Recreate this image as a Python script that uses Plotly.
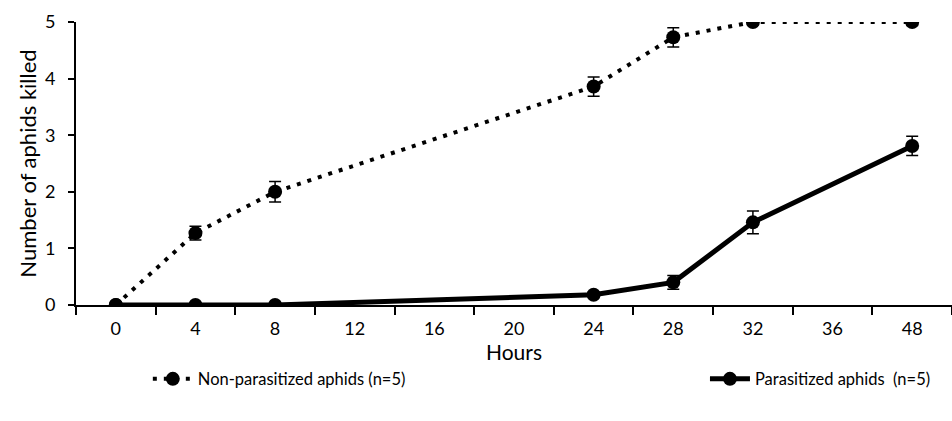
import plotly.graph_objects as go

# Sampling times (categorical axis) and mean numbers of aphids killed
hours = ["0", "4", "8", "12", "16", "20", "24", "28", "32", "36", "48"]

non_para_x = ["0", "4", "8", "24", "28", "32", "48"]
non_para_y = [0.0, 1.27, 2.0, 3.86, 4.73, 5.0, 5.0]
non_para_err = [0.0, 0.12, 0.18, 0.17, 0.17, 0.05, 0.06]

para_x = ["0", "4", "8", "24", "28", "32", "48"]
para_y = [0.0, 0.0, 0.0, 0.18, 0.4, 1.46, 2.81]
para_err = [0.0, 0.0, 0.0, 0.05, 0.12, 0.2, 0.17]

FONT = "Lato, 'Open Sans', sans-serif"

fig = go.Figure()

fig.add_trace(go.Scatter(
    x=non_para_x, y=non_para_y,
    name="Non-parasitized aphids (n=5)",
    mode="lines+markers",
    line=dict(color="black", width=4, dash="4px,7px"),
    marker=dict(color="black", size=14, symbol="circle"),
    error_y=dict(type="data", array=non_para_err, visible=True,
                 color="black", thickness=1.5, width=6),
    legend="legend",
))

fig.add_trace(go.Scatter(
    x=para_x, y=para_y,
    name="Parasitized aphids  (n=5)",
    mode="lines+markers",
    line=dict(color="black", width=5),
    marker=dict(color="black", size=14, symbol="circle"),
    error_y=dict(type="data", array=para_err, visible=True,
                 color="black", thickness=1.5, width=6),
    legend="legend2",
))

legend_style = dict(
    orientation="h", yanchor="top", y=-0.2,
    font=dict(family=FONT, size=16.5, color="black"),
    bgcolor="rgba(0,0,0,0)", itemwidth=40,
)

fig.update_layout(
    width=952, height=421,
    margin=dict(l=76, r=0, t=22, b=116, autoexpand=False),
    paper_bgcolor="white", plot_bgcolor="white",
    font=dict(family=FONT, size=18, color="black"),
    showlegend=True,
    legend=dict(x=0.082, xanchor="left", **legend_style),
    legend2=dict(x=0.718, xanchor="left", **legend_style),
)

fig.update_xaxes(
    type="category", categoryorder="array", categoryarray=hours,
    range=[-0.5, 10.5], automargin=False,
    showline=True, linecolor="black", linewidth=2,
    ticks="outside", ticklen=8, tickwidth=2, tickcolor="black",
    tickson="boundaries", showgrid=False, zeroline=False,
    ticklabelstandoff=6,
    title=dict(text="Hours", font=dict(family=FONT, size=21), standoff=6),
    tickfont=dict(family=FONT, size=18),
)

fig.update_yaxes(
    range=[0, 5], dtick=1, tick0=0, automargin=False,
    showline=True, linecolor="black", linewidth=2,
    ticks="outside", ticklen=6, tickwidth=2, tickcolor="black",
    showgrid=False, zeroline=False,
    ticklabelstandoff=9,
    title=dict(text="Number of aphids killed", font=dict(family=FONT, size=22), standoff=2),
    tickfont=dict(family=FONT, size=18),
)

fig.write_html("out.html")
